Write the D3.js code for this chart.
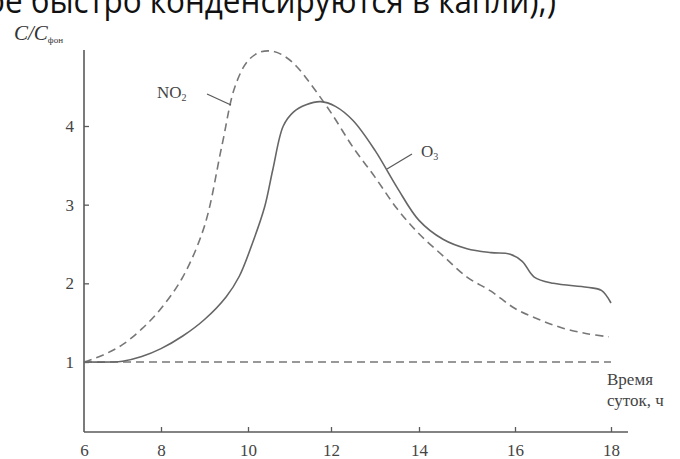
<!DOCTYPE html>
<html>
<head>
<meta charset="utf-8">
<script src="https://cdn.jsdelivr.net/npm/d3@7"></script>
<style>
  body { margin: 0; background: #fff; }
  svg { display: block; }
</style>
</head>
<body>
<svg id="chart" width="680" height="459"></svg>
<script>
// hours of day on the x axis
var xTicks = [6, 8, 10, 12, 14, 16, 18];
var yTicks = [1, 2, 3, 4];

// NO2, C / C_background (dashed)
var no2Hours  = [6, 6.5, 7, 7.5, 8, 8.5, 9, 9.4, 9.7, 10, 10.3, 10.6, 10.9, 11.2, 11.5, 12, 12.5, 13, 13.5, 14, 14.5, 15, 15.5, 16, 16.5, 17, 17.5, 17.95];
var no2Values = [1.0, 1.09, 1.22, 1.42, 1.68, 2.08, 2.73, 3.75, 4.5, 4.83, 4.94, 4.95, 4.88, 4.74, 4.54, 4.17, 3.73, 3.35, 2.95, 2.63, 2.35, 2.08, 1.9, 1.68, 1.54, 1.43, 1.36, 1.32];

// O3, C / C_background (solid)
var o3Hours  = [6, 6.7, 7, 7.5, 8, 8.5, 9, 9.5, 9.8, 10.1, 10.4, 10.6, 10.85, 11.1, 11.4, 11.75, 12.1, 12.5, 13, 13.5, 14, 14.5, 15, 15.5, 15.9, 16.15, 16.4, 16.8, 17.5, 17.8, 18];
var o3Values = [1.0, 1.0, 1.01, 1.07, 1.17, 1.33, 1.54, 1.83, 2.09, 2.5, 2.97, 3.45, 4.0, 4.18, 4.27, 4.31, 4.25, 4.07, 3.69, 3.22, 2.8, 2.56, 2.44, 2.39, 2.37, 2.28, 2.08, 2.0, 1.95, 1.91, 1.75];

var svg = d3.select("#chart");
var ink = "#5a5a5a";
var serif = "'Liberation Serif', 'DejaVu Serif', serif";

// scanned page is slightly stretched, so the x axis is calibrated tick by tick
var x = d3.scaleLinear()
          .domain(xTicks)
          .range([84, 161, 248, 331, 419, 515, 611]);
var y = d3.scaleLinear()
          .domain([1, 4])
          .range([362, 126]);

// leftover line of page text at the top
svg.append("text")
    .attr("x", -14)
    .attr("y", 13)
    .attr("font-family", "'Open Sans', 'Noto Sans', sans-serif")
    .attr("font-size", 34)
    .attr("fill", "#111")
    .attr("textLength", 570)
    .attr("lengthAdjust", "spacingAndGlyphs")
    .text("ое быстро конденсируются в капли),)");

// axes lines
svg.append("line")
    .attr("x1", 84).attr("x2", 628)
    .attr("y1", 432).attr("y2", 432)
    .attr("stroke", ink).attr("stroke-width", 1.6);
svg.append("line")
    .attr("x1", 84).attr("x2", 84)
    .attr("y1", 432).attr("y2", 50)
    .attr("stroke", ink).attr("stroke-width", 1.6);

var xAxis = svg.append("g")
    .attr("transform", "translate(0,432)")
    .call(d3.axisBottom(x).tickValues(xTicks).tickFormat(d3.format("d"))
            .tickSizeInner(-5).tickSizeOuter(0).tickPadding(12));
var yAxis = svg.append("g")
    .attr("transform", "translate(84,0)")
    .call(d3.axisLeft(y).tickValues(yTicks).tickFormat(d3.format("d"))
            .tickSizeInner(-5).tickSizeOuter(0).tickPadding(10));

[xAxis, yAxis].forEach(function(g) {
  g.attr("font-family", serif);
  g.select(".domain").remove();
  g.selectAll(".tick line").attr("stroke", ink).attr("stroke-width", 1.3);
  g.selectAll(".tick text")
      .style("font-family", serif)
      .style("font-size", "17px")
      .attr("fill", "#444");
});
xAxis.selectAll(".tick").filter(d => d === 6).select("line").remove();

// background level C = C_bg
svg.append("line")
    .attr("x1", x(6)).attr("x2", x(18))
    .attr("y1", y(1)).attr("y2", y(1))
    .attr("stroke", "#777").attr("stroke-width", 1.4)
    .attr("stroke-dasharray", "8,5");

var line = d3.line()
             .x(d => x(d[0]))
             .y(d => y(d[1]))
             .curve(d3.curveCatmullRom.alpha(0.5));

svg.append("path")
    .datum(d3.zip(no2Hours, no2Values))
    .attr("fill", "none")
    .attr("stroke", "#777")
    .attr("stroke-width", 1.6)
    .attr("stroke-dasharray", "8,5")
    .attr("d", line);

svg.append("path")
    .datum(d3.zip(o3Hours, o3Values))
    .attr("fill", "none")
    .attr("stroke", "#666")
    .attr("stroke-width", 1.6)
    .attr("d", line);

// series labels with leader lines
svg.append("line")
    .attr("x1", 207).attr("y1", 94).attr("x2", 231).attr("y2", 105)
    .attr("stroke", ink).attr("stroke-width", 1.3);
var no2Label = svg.append("text")
    .attr("x", 157).attr("y", 98)
    .attr("font-family", serif).attr("font-size", 17).attr("fill", "#444");
no2Label.append("tspan").text("NO");
no2Label.append("tspan").attr("font-size", 10).attr("dy", 3).text("2");

svg.append("line")
    .attr("x1", 387).attr("y1", 169).attr("x2", 412).attr("y2", 154)
    .attr("stroke", ink).attr("stroke-width", 1.3);
var o3Label = svg.append("text")
    .attr("x", 421).attr("y", 157)
    .attr("font-family", serif).attr("font-size", 17).attr("fill", "#444");
o3Label.append("tspan").text("O");
o3Label.append("tspan").attr("font-size", 10).attr("dy", 3).text("3");

// axis titles
var yTitle = svg.append("text")
    .attr("x", 14).attr("y", 40)
    .attr("font-family", serif).attr("font-size", 21)
    .attr("font-style", "italic").attr("fill", "#333");
yTitle.append("tspan").text("C/C");
yTitle.append("tspan").attr("font-size", 9).attr("font-style", "normal").attr("dy", 3).text("фон");

svg.append("text")
    .attr("x", 607).attr("y", 385)
    .attr("font-family", serif).attr("font-size", 17).attr("fill", "#444")
    .text("Время");
svg.append("text")
    .attr("x", 607).attr("y", 406)
    .attr("font-family", serif).attr("font-size", 17).attr("fill", "#444")
    .text("суток, ч");
</script>
</body>
</html>
